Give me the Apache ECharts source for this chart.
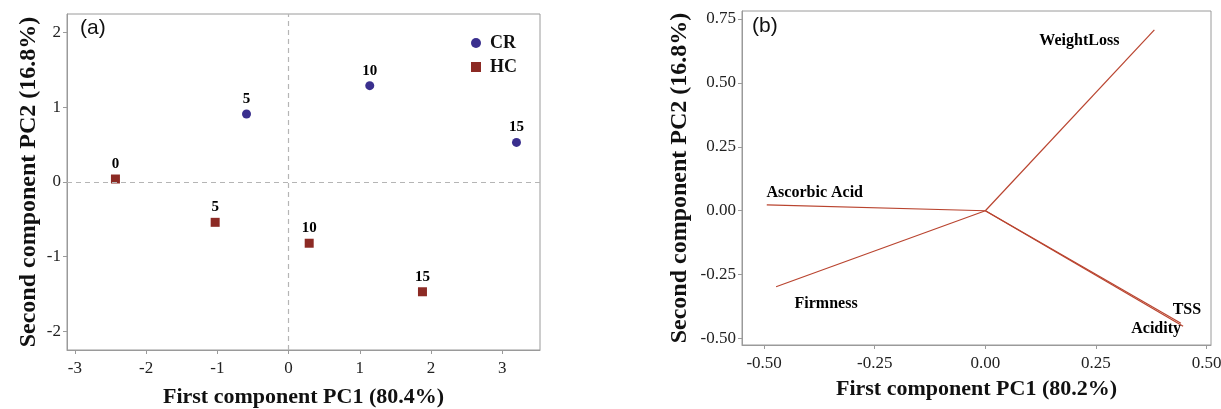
<!DOCTYPE html>
<html>
<head>
<meta charset="utf-8">
<script src="https://cdn.jsdelivr.net/npm/echarts@6/dist/echarts.min.js"></script>
<style>
    html, body { margin: 0; padding: 0; background: #fff; }
    #chart { width: 1221px; height: 409px; }
</style>
</head>
<body>
<div id="chart"></div>
<script>
// (a) scores
var crDays = ['5', '10', '15'];
var crPC1 = [-0.59, 1.14, 3.2];
var crPC2 = [0.91, 1.29, 0.53];
var hcDays = ['0', '5', '10', '15'];
var hcPC1 = [-2.43, -1.03, 0.29, 1.88];
var hcPC2 = [0.04, -0.54, -0.82, -1.47];
var scoreTicksX = [-3, -2, -1, 0, 1, 2, 3];
var scoreTicksY = [-2, -1, 0, 1, 2];

// (b) loadings
var variables = ['WeightLoss', 'Ascorbic Acid', 'Firmness', 'TSS', 'Acidity'];
var loadPC1 = [0.382, -0.494, -0.473, 0.442, 0.447];
var loadPC2 = [0.707, 0.023, -0.297, -0.44, -0.452];
var loadTicks = [-0.5, -0.25, 0, 0.25, 0.5];

var SERIF = '"Liberation Serif", "Times New Roman", serif';
var AXIS_GREY = '#9a9a9a';
var LINE_RED = '#b9442f';
// label offsets (px) for the biplot variable names
var labelOffsets = [[-75, 11], [48, -12], [50, 17], [6, -13], [-27, 3]];

function axisBase(grid, min, max, ticks, fmt, name, gap, vertical) {
    return {
        type: 'value',
        gridIndex: grid,
        min: min,
        max: max,
        name: name,
        nameLocation: 'middle',
        nameGap: gap,
        nameTextStyle: { fontFamily: SERIF, fontWeight: 'bold', fontSize: vertical ? 24 : 22, color: '#111' },
        axisLine: { show: true, onZero: false, lineStyle: { color: AXIS_GREY } },
        axisTick: { show: true, length: 4, customValues: ticks, lineStyle: { color: AXIS_GREY } },
        axisLabel: {
            customValues: ticks,
            fontFamily: SERIF, fontSize: 17, color: '#222',
            margin: vertical ? 6 : 10,
            formatter: fmt
        },
        splitLine: { show: false }
    };
}

function loadChart() {
    var myChart = echarts.init(document.getElementById('chart'));
    var intFmt = function (v) { return String(Math.round(v)); };
    var decFmt = function (v) { return v.toFixed(2); };

    var crData = [];
    for (var i = 0; i < crPC1.length; i++) {
        crData.push({ value: [crPC1[i], crPC2[i]], name: crDays[i] });
    }
    var hcData = [];
    for (var j = 0; j < hcPC1.length; j++) {
        hcData.push({ value: [hcPC1[j], hcPC2[j]], name: hcDays[j] });
    }
    var pointLabel = {
        show: true, position: 'top', distance: 3,
        formatter: '{b}',
        fontFamily: SERIF, fontWeight: 'bold', fontSize: 15, color: '#000'
    };

    var series = [{
        name: 'CR',
        type: 'scatter',
        xAxisIndex: 0, yAxisIndex: 0,
        symbol: 'circle', symbolSize: 9,
        itemStyle: { color: '#3a2f8e', opacity: 1 },
        label: pointLabel,
        data: crData,
        markLine: {
            silent: true, symbol: 'none', label: { show: false },
            lineStyle: { color: '#b5b5b5', type: [5, 4], width: 1.2 },
            data: [{ xAxis: 0 }, { yAxis: 0 }]
        }
    }, {
        name: 'HC',
        type: 'scatter',
        xAxisIndex: 0, yAxisIndex: 0,
        symbol: 'rect', symbolSize: 9,
        itemStyle: { color: '#8c2a24', opacity: 1 },
        label: pointLabel,
        data: hcData
    }];

    var nameData = [];
    for (var k = 0; k < variables.length; k++) {
        series.push({
            name: variables[k],
            type: 'line',
            xAxisIndex: 1, yAxisIndex: 1,
            showSymbol: false,
            symbol: 'none',
            lineStyle: { color: LINE_RED, width: 1.2 },
            data: [[0, 0], [loadPC1[k], loadPC2[k]]]
        });
        nameData.push({
            value: [loadPC1[k], loadPC2[k]],
            name: variables[k],
            label: { offset: labelOffsets[k] }
        });
    }
    series.push({
        name: 'variables',
        type: 'scatter',
        xAxisIndex: 1, yAxisIndex: 1,
        symbolSize: 0,
        silent: true,
        itemStyle: { opacity: 1 },
        label: {
            show: true, position: 'inside',
            formatter: '{b}',
            fontFamily: SERIF, fontWeight: 'bold', fontSize: 16, color: '#000'
        },
        data: nameData
    });

    var option = {
        animation: false,
        backgroundColor: '#fff',
        graphic: [
            { type: 'text', left: 80, top: 18, style: { text: '(a)', font: '21px "Liberation Sans", Arial, sans-serif', fill: '#111' } },
            { type: 'text', left: 752, top: 16, style: { text: '(b)', font: '21px "Liberation Sans", Arial, sans-serif', fill: '#111' } }
        ],
        legend: {
            data: [{ name: 'CR', icon: 'circle' }, { name: 'HC', icon: 'rect' }],
            orient: 'vertical',
            left: 466, top: 29,
            itemWidth: 10, itemHeight: 10,
            itemGap: 6,
            textStyle: { fontFamily: SERIF, fontWeight: 'bold', fontSize: 18, color: '#111', padding: [0, 0, 0, 4] }
        },
        grid: [
            { left: 67, top: 14, width: 473, height: 336, show: true, borderColor: AXIS_GREY, borderWidth: 1, outerBoundsMode: 'none', containLabel: false },
            { left: 742, top: 11, width: 469, height: 334, show: true, borderColor: AXIS_GREY, borderWidth: 1, outerBoundsMode: 'none', containLabel: false }
        ],
        xAxis: [
            axisBase(0, -3.11, 3.53, scoreTicksX, intFmt, 'First component PC1 (80.4%)', 36, false),
            axisBase(1, -0.55, 0.51, loadTicks, decFmt, 'First component PC1 (80.2%)', 33, false)
        ],
        yAxis: [
            axisBase(0, -2.25, 2.25, scoreTicksY, intFmt, 'Second component PC2 (16.8%)', 26, true),
            axisBase(1, -0.525, 0.781, loadTicks.concat([0.75]), decFmt, 'Second component PC2 (16.8%)', 50, true)
        ],
        series: series
    };
    myChart.setOption(option, true);
}

loadChart();
</script>
</body>
</html>
